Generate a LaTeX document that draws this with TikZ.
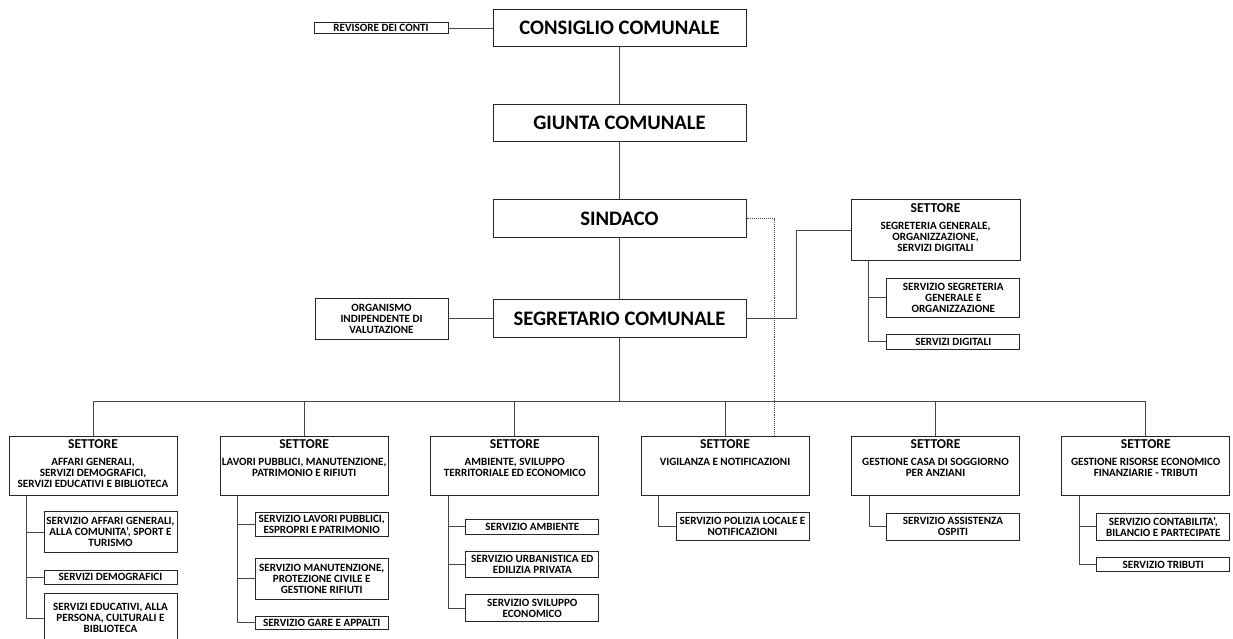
\documentclass[tikz,border=0pt]{standalone}
\usepackage{fontspec}
\setmainfont{Carlito}
\newcommand\fbig{\fontsize{20.6}{22}\selectfont\bfseries}
\newcommand\fsm{\fontsize{11.1}{11}\selectfont\bfseries}
\newcommand\fset{\fontsize{13.6}{14}\selectfont\bfseries}
\begin{document}
\begin{tikzpicture}[x=1pt,y=-1pt,
  bx/.style={draw=black!85,line width=1pt,inner sep=0pt,align=center,fill=white},
  big/.style={bx,font=\fbig,minimum width=253pt,minimum height=37.5pt},
  sm/.style={bx,font=\fsm,minimum width=133pt},
  sett/.style={bx,minimum width=168pt,minimum height=59.3pt},
  stt/.style={anchor=north,inner sep=0pt,font=\fset},
  stx/.style={anchor=north,inner sep=0pt,align=center,font=\fsm},
  ln/.style={draw=black!72,line width=0.95pt},
  dl/.style={ln,densely dotted}]
\useasboundingbox (0,0) rectangle (1233,639);
\clip (0,0) rectangle (1233,639);
\fill[white] (0,0) rectangle (1233,639);

% top chain
\node[big] (cons) at (619.5,28) {CONSIGLIO COMUNALE};
\node[big] (giunta) at (619.5,123) {GIUNTA COMUNALE};
\node[big] (sind) at (619.5,218.7) {SINDACO};
\node[big] (segr) at (619.5,318.7) {SEGRETARIO COMUNALE};
\node[sm,minimum width=134pt,minimum height=11.5pt] (rev) at (381,28) {REVISORE DEI CONTI};
\node[sm,minimum height=41pt] (oiv) at (381.5,318.7) {ORGANISMO\\INDIPENDENTE DI\\VALUTAZIONE};

% settore segreteria
\node[bx,minimum width=169pt,minimum height=61.4pt] (sSG) at (935.5,230) {};
\node[stt] (sSGt) at ([yshift=-4.5pt]sSG.north) {SETTORE};
\node[stx] (sSGx) at ([yshift=-23pt]sSG.north) {SEGRETERIA GENERALE,\\ORGANIZZAZIONE,\\SERVIZI DIGITALI};
\node[sm,minimum height=39pt] (sg1) at (953.3,297.8) {SERVIZIO SEGRETERIA\\GENERALE E\\ORGANIZZAZIONE};
\node[sm,minimum height=14.7pt] (sg2) at (953.3,341.7) {SERVIZI DIGITALI};

% settori row
\node[sett] (s1) at (93,466.3) {};
\node[sett] (s2) at (304.2,466.3) {};
\node[sett] (s3) at (514.8,466.3) {};
\node[sett] (s4) at (725,466.3) {};
\node[sett] (s5) at (935.5,466.3) {};
\node[sett] (s6) at (1145.8,466.3) {};
\foreach \s in {s1,s2,s3,s4,s5,s6}{
  \node[stt] (\s t) at ([yshift=-3.5pt]\s.north) {SETTORE};
}
\node[stx] (s1x) at ([yshift=-22pt]s1.north) {AFFARI GENERALI,\\SERVIZI DEMOGRAFICI,\\SERVIZI EDUCATIVI E BIBLIOTECA};
\node[stx] (s2x) at ([yshift=-22pt]s2.north) {LAVORI PUBBLICI, MANUTENZIONE,\\PATRIMONIO E RIFIUTI};
\node[stx] (s3x) at ([yshift=-22pt]s3.north) {AMBIENTE, SVILUPPO\\TERRITORIALE ED ECONOMICO};
\node[stx] (s4x) at ([yshift=-22pt]s4.north) {VIGILANZA E NOTIFICAZIONI};
\node[stx] (s5x) at ([yshift=-22pt]s5.north) {GESTIONE CASA DI SOGGIORNO\\PER ANZIANI};
\node[stx] (s6x) at ([yshift=-22pt]s6.north) {GESTIONE RISORSE ECONOMICO\\FINANZIARIE - TRIBUTI};

% servizi
\node[sm,minimum height=40.6pt] (s1a) at (110.5,532) {SERVIZIO AFFARI GENERALI,\\ALLA COMUNITA', SPORT E\\TURISMO};
\node[sm,minimum height=14.3pt] (s1b) at (110.5,577.2) {SERVIZI DEMOGRAFICI};
\node[sm,minimum height=50pt] (s1c) at (110.5,618.3) {SERVIZI EDUCATIVI, ALLA\\PERSONA, CULTURALI E\\BIBLIOTECA};
\node[sm,minimum height=24.4pt] (s2a) at (321.7,524.5) {SERVIZIO LAVORI PUBBLICI,\\ESPROPRI E PATRIMONIO};
\node[sm,minimum height=41pt] (s2b) at (321.7,578.5) {SERVIZIO MANUTENZIONE,\\PROTEZIONE CIVILE E\\GESTIONE RIFIUTI};
\node[sm,minimum height=12.3pt] (s2c) at (321.7,622.9) {SERVIZIO GARE E APPALTI};
\node[sm,minimum height=14.7pt] (s3a) at (532.3,526.7) {SERVIZIO AMBIENTE};
\node[sm,minimum height=26.3pt] (s3b) at (532.3,564.2) {SERVIZIO URBANISTICA ED\\EDILIZIA PRIVATA};
\node[sm,minimum height=27.4pt] (s3c) at (532.3,608) {SERVIZIO SVILUPPO\\ECONOMICO};
\node[sm,minimum height=27.3pt] (s4a) at (742.5,526.4) {SERVIZIO POLIZIA LOCALE E\\NOTIFICAZIONI};
\node[sm,minimum height=26.7pt] (s5a) at (953,526.7) {SERVIZIO ASSISTENZA\\OSPITI};
\node[sm,minimum height=26.7pt] (s6a) at (1163.3,526.7) {SERVIZIO CONTABILITA',\\BILANCIO E PARTECIPATE};
\node[sm,minimum height=14pt] (s6b) at (1163.3,564.7) {SERVIZIO TRIBUTI};

% connectors
\draw[ln] (rev.east) -- (cons.west);
\draw[ln] (cons.south) -- (giunta.north);
\draw[ln] (giunta.south) -- (sind.north);
\draw[ln] (sind.south) -- (segr.north);
\draw[ln] (oiv.east) -- (segr.west);
\draw[ln] (segr.east) -- ++(49.5,0) |- (sSG.west);
\coordinate (tg) at ([xshift=18pt]sSG.south west);
\draw[ln] (tg) |- (sg1.west);
\draw[ln] (tg) |- (sg2.west);

\coordinate (bus) at (619.5,401.7);
\draw[ln] (segr.south) -- (bus);
\draw[ln] (s1.north) -- (s1.north |- bus) -- (s6.north |- bus) -- (s6.north);
\foreach \s in {s2,s3,s4,s5}{
  \draw[ln] (\s.north) -- (\s.north |- bus);
}
\draw[dl] (sind.east) -| ([xshift=49pt]s4.north);

\coordinate (t1) at ([xshift=18pt]s1.south west);
\draw[ln] (t1) |- (s1a.west);
\draw[ln] (t1) |- (s1b.west);
\draw[ln] (t1) |- (s1c.west);
\coordinate (t2) at ([xshift=18pt]s2.south west);
\draw[ln] (t2) |- (s2a.west);
\draw[ln] (t2) |- (s2b.west);
\draw[ln] (t2) |- (s2c.west);
\coordinate (t3) at ([xshift=18pt]s3.south west);
\draw[ln] (t3) |- (s3a.west);
\draw[ln] (t3) |- (s3b.west);
\draw[ln] (t3) |- (s3c.west);
\coordinate (t4) at ([xshift=18pt]s4.south west);
\draw[ln] (t4) |- (s4a.west);
\coordinate (t5) at ([xshift=18pt]s5.south west);
\draw[ln] (t5) |- (s5a.west);
\coordinate (t6) at ([xshift=18pt]s6.south west);
\draw[ln] (t6) |- (s6a.west);
\draw[ln] (t6) |- (s6b.west);
\end{tikzpicture}
\end{document}
